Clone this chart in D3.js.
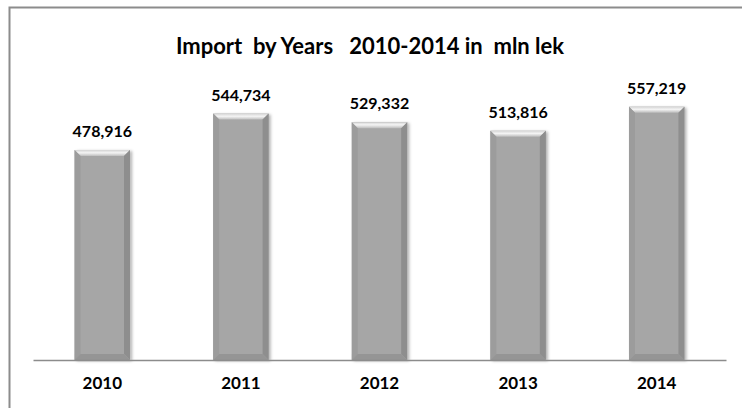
<!DOCTYPE html>
<html>
<head>
<meta charset="utf-8">
<script src="https://cdn.jsdelivr.net/npm/d3@7"></script>
<style>
html,body{margin:0;padding:0;background:#fff;}
svg{display:block;}
</style>
</head>
<body>
<svg id="chart" width="742" height="408"></svg>
<script>
const categories = ["2010", "2011", "2012", "2013", "2014"];
const values = [478916, 544734, 529332, 513816, 557219];
const yDomain = [100000, 600000];
const titleText = "Import  by Years   2010-2014 in  mln lek";

const svg = d3.select("#chart");
const font = "Lato, 'Open Sans', sans-serif";

const defs = svg.append("defs");
const f = defs.append("filter").attr("id","sh").attr("x","-20%").attr("y","-20%").attr("width","150%").attr("height","150%");
f.append("feDropShadow").attr("dx",2).attr("dy",1).attr("stdDeviation",1.5).attr("flood-color","#000").attr("flood-opacity",0.3);

const gTop = defs.append("linearGradient").attr("id","gTop").attr("x1",0).attr("y1",0).attr("x2",0).attr("y2",1);
gTop.append("stop").attr("offset","0%").attr("stop-color","#d4d4d4");
gTop.append("stop").attr("offset","45%").attr("stop-color","#f4f4f4");
gTop.append("stop").attr("offset","100%").attr("stop-color","#bdbdbd");

// outer frame
svg.append("rect").attr("x",9.5).attr("y",7.5).attr("width",780).attr("height",430)
  .attr("fill","none").attr("stroke","#8c8c8c").attr("stroke-width",2);

const x = d3.scaleBand().domain(categories).range([33, 726]).paddingInner(0.6).paddingOuter(0.3);
const y = d3.scaleLinear().domain(yDomain).range([360, 83]);

svg.append("text").attr("x", 370).attr("y", 54).attr("text-anchor","middle")
  .attr("font-family", font).attr("font-weight","bold").attr("font-size", 22)
  .attr("fill","#000").text(titleText.replace(/ /g, "\u00a0"));

const bv = 6;
const bars = svg.append("g").selectAll("g").data(categories.map((c,i)=>({c, v: values[i]}))).join("g");
bars.each(function(d){
  const g = d3.select(this);
  const x0 = x(d.c), w = x.bandwidth(), y0 = y(d.v), y1 = y(yDomain[0]);
  g.append("rect").attr("x",x0).attr("y",y0).attr("width",w).attr("height",y1-y0)
    .attr("fill","#a6a6a6").attr("filter","url(#sh)");
  g.append("path").attr("d",`M${x0},${y0}L${x0+w},${y0}L${x0+w-bv},${y0+bv}L${x0+bv},${y0+bv}Z`).attr("fill","url(#gTop)");
  g.append("path").attr("d",`M${x0},${y0}L${x0+bv},${y0+bv}L${x0+bv},${y1-bv}L${x0},${y1}Z`).attr("fill","#9c9c9c");
  g.append("path").attr("d",`M${x0+w},${y0}L${x0+w},${y1}L${x0+w-bv},${y1-bv}L${x0+w-bv},${y0+bv}Z`).attr("fill","#8e8e8e");
  g.append("path").attr("d",`M${x0},${y1}L${x0+w},${y1}L${x0+w-bv},${y1-bv}L${x0+bv},${y1-bv}Z`).attr("fill","#959595");
});

bars.append("text").attr("x", d => x(d.c) + x.bandwidth()/2).attr("y", d => y(d.v) - 13)
  .attr("text-anchor","middle").attr("font-family", font).attr("font-weight","bold")
  .attr("font-size", 16).attr("fill","#000").text(d => d3.format(",")(d.v));

const xAxis = d3.axisBottom(x).tickSize(0).tickPadding(0);
const ax = svg.append("g").attr("transform","translate(0,360)").call(xAxis);
ax.select(".domain").attr("stroke","#8c8c8c").attr("stroke-width",1.5);
ax.selectAll("text").attr("font-family", font).attr("font-weight","bold").attr("font-size",17)
  .attr("fill","#000").attr("dy", null).attr("y", 29);
</script>
</body>
</html>
